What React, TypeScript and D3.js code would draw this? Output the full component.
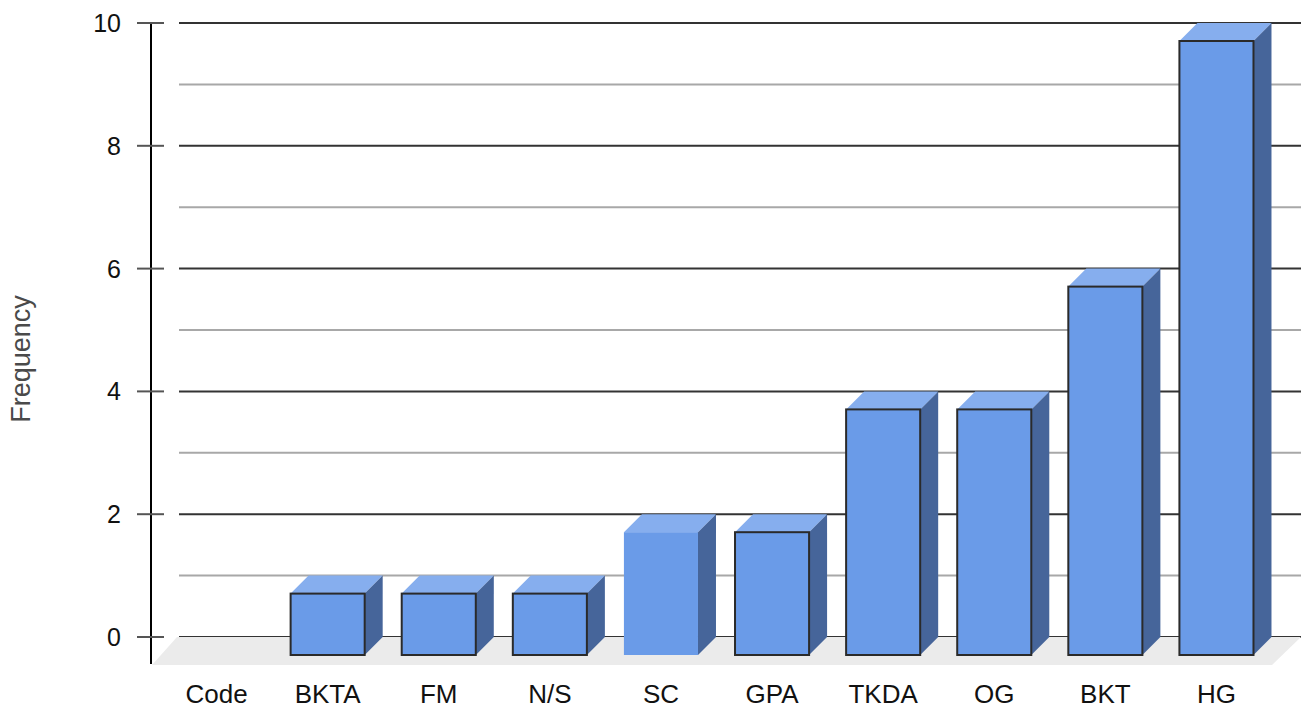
import React from "react";
import * as d3 from "d3";

// Codes and how often each one appears
const categories = ["Code", "BKTA", "FM", "N/S", "SC", "GPA", "TKDA", "OG", "BKT", "HG"];
const frequencies = [0, 1, 1, 1, 2, 2, 4, 4, 6, 10];
const yTicks = [0, 2, 4, 6, 8, 10];
const minorTicks = [1, 3, 5, 7, 9];
// The highlighted category is drawn without an outline
const highlighted = "SC";

const W = 1301;
const H = 710;
// Back wall plot area
const backLeft = 179;
const backTop = 23;
const backBottom = 637;
// Depth offset from the front face to the back wall
const depthX = 18;
const depthY = -18;

export default function App() {
  const y = d3.scaleLinear().domain([0, 10]).range([backBottom, backTop]);
  const x = d3
    .scaleBand<string>()
    .domain(categories)
    .range([backLeft - depthX, backLeft - depthX + 1111])
    .paddingInner(1 / 3)
    .paddingOuter(1 / 6);

  const front = "#6a9be8";
  const top = "#86aeee";
  const side = "#46659a";

  return (
    <svg width={W} height={H} style={{ position: "absolute", left: 0, top: 0 }}
      fontFamily="'Liberation Sans', Arial, sans-serif">
      <rect width={W} height={H} fill="#fff" />
      {/* Grid on the back wall */}
      {minorTicks.map((t) => (
        <line key={"m" + t} x1={backLeft} x2={W} y1={y(t)} y2={y(t)} stroke="#a8a8a8" strokeWidth={2} />
      ))}
      {yTicks.map((t) => (
        <line key={"g" + t} x1={backLeft} x2={W} y1={y(t)} y2={y(t)} stroke="#333" strokeWidth={2} />
      ))}
      {/* Floor */}
      <polygon
        points={`${backLeft - 2},${backBottom} ${W},${backBottom} ${W - 29},${backBottom + 28} ${152},${backBottom + 28}`}
        fill="#ebebeb"
      />
      {/* Bars */}
      {categories.map((c, i) => {
        const v = frequencies[i];
        if (v <= 0) return null;
        const x0 = x(c)!;
        const w = x.bandwidth();
        const yTop = y(v) - depthY;
        const yBot = y(0) - depthY;
        const noStroke = c === highlighted;
        return (
          <g key={c}>
            <polygon
              points={`${x0},${yTop} ${x0 + depthX},${yTop + depthY} ${x0 + w + depthX},${yTop + depthY} ${x0 + w},${yTop}`}
              fill={top}
            />
            <polygon
              points={`${x0 + w},${yTop} ${x0 + w + depthX},${yTop + depthY} ${x0 + w + depthX},${yBot + depthY} ${x0 + w},${yBot}`}
              fill={side}
            />
            <rect
              x={x0}
              y={yTop}
              width={w}
              height={yBot - yTop}
              fill={front}
              stroke={noStroke ? "none" : "#2a2a2a"}
              strokeWidth={noStroke ? 0 : 2}
            />
          </g>
        );
      })}
      {/* Y axis */}
      <line x1={151} x2={151} y1={22} y2={664} stroke="#000" strokeWidth={2} />
      {yTicks.map((t) => (
        <g key={"t" + t}>
          <line x1={137} x2={164} y1={y(t)} y2={y(t)} stroke="#555" strokeWidth={2} />
          <text x={121} y={y(t)} dy="0.36em" textAnchor="end" fontSize={25} fill="#111">
            {t}
          </text>
        </g>
      ))}
      {/* Category labels */}
      {categories.map((c) => (
        <text key={"l" + c} x={x(c)! + x.bandwidth() / 2} y={703} textAnchor="middle" fontSize={26} fill="#111">
          {c}
        </text>
      ))}
      <text transform="translate(30,359) rotate(-90)" textAnchor="middle" fontSize={27} fill="#4a4a4a">
        Frequency
      </text>
    </svg>
  );
}
